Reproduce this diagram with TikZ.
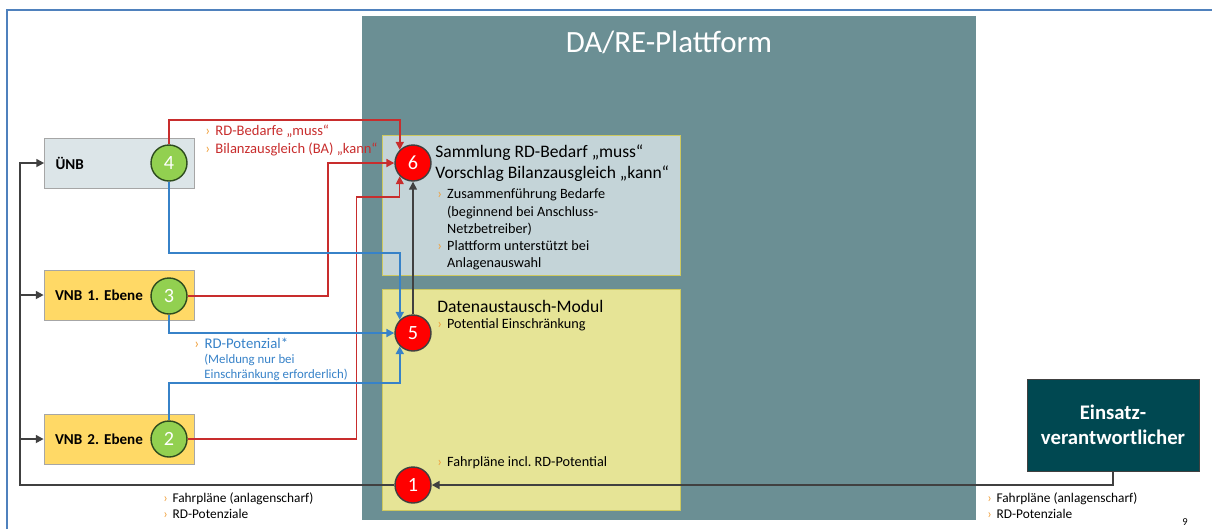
\documentclass[tikz,border=0pt]{standalone}
\usepackage{fontspec}
\setmainfont{Carlito}
\usetikzlibrary{positioning, arrows.meta}
\definecolor{frameblue}{RGB}{79,129,189}
\definecolor{platgrey}{RGB}{107,143,148}
\definecolor{modblue}{RGB}{196,212,216}
\definecolor{modyellow}{RGB}{230,228,150}
\definecolor{modedge}{RGB}{205,200,95}
\definecolor{actgreen}{RGB}{146,208,80}
\definecolor{greenedge}{RGB}{45,75,30}
\definecolor{vnbfill}{RGB}{255,217,102}
\definecolor{unbfill}{RGB}{220,229,232}
\definecolor{einsfill}{RGB}{0,72,81}
\definecolor{flowred}{RGB}{200,45,45}
\definecolor{flowblue}{RGB}{55,130,200}
\definecolor{flowgrey}{RGB}{64,64,64}
\definecolor{bulorange}{RGB}{240,160,60}
\newcommand{\bul}{{\color{bulorange}›}\hspace{0.35em}}
\newcommand{\bulgap}{\hphantom{›\hspace{0.35em}}}
\frenchspacing

\begin{document}
\begin{tikzpicture}[x=0.02cm, y=-0.02cm,
        actor/.style={draw=gray!70, minimum width=3cm, minimum height=1cm,
            inner xsep=0.22cm, text width=2.56cm, align=left,
            font=\fontsize{8.6}{10}\selectfont\bfseries},
        stepgreen/.style={circle, draw=greenedge, thick, fill=actgreen,
            minimum size=0.72cm, inner sep=0pt, text=white,
            font=\fontsize{11.5}{12}\selectfont},
        stepred/.style={circle, draw=flowgrey, thick, fill=red,
            minimum size=0.72cm, inner sep=0pt, text=white,
            font=\fontsize{11.5}{12}\selectfont},
        heading/.style={anchor=west, align=left, inner sep=0pt,
            font=\fontsize{10}{11.8}\selectfont},
        note/.style={anchor=west, align=left, inner sep=0pt,
            font=\fontsize{8.1}{9.8}\selectfont},
        flow/.style={line width=1.1pt, -{Triangle[length=4.5pt, width=4.5pt]}}
    ]
    \useasboundingbox (0,0) rectangle (1212,529);

    % slide frame
    \draw[frameblue, line width=1.4pt] (7,529) -- (7,10) -- (1212,10);

    % platform with its two modules
    \node[fill=platgrey, minimum width=12.28cm, minimum height=10.08cm,
        inner sep=0pt] (plat) at (669,268) {};
    \node[text=white, font=\fontsize{17.6}{18}\selectfont] (plattitle) at (669,42)
        {DA/RE-Plattform};
    \node[fill=modblue, draw=modedge, minimum width=5.96cm, minimum height=2.8cm,
        inner sep=0pt] (collect) at (531,205) {};
    \node[fill=modyellow, draw=modedge, minimum width=5.96cm, minimum height=4.42cm,
        inner sep=0pt] (exchange) at (531,399.5) {};

    \node[heading] (collecthead) at (435,163)
        {Sammlung RD-Bedarf „muss“\\Vorschlag Bilanzausgleich „kann“};
    \node[note] (collectlist) at (437,229.5)
        {\bul Zusammenführung Bedarfe\\
         \bulgap(beginnend bei Anschluss-\\
         \bulgap Netzbetreiber)\\
         \bul Plattform unterstützt bei\\
         \bulgap Anlagenauswahl};
    \node[heading] (exchangehead) at (437,306) {Datenaustausch-Modul};
    \node[note] (exchangelist) at (437,325) {\bul Potential Einschränkung};
    \node[note] (schedlist) at (437,463) {\bul Fahrpläne incl. RD-Potential};

    % operators on the left
    \node[actor, fill=unbfill] (unb) at (119.5,163) {ÜNB};
    \node[actor, fill=vnbfill] (vnb1) at (119,295) {VNB 1. Ebene};
    \node[actor, fill=vnbfill] (vnb2) at (119,439) {VNB 2. Ebene};
    \node[stepgreen] (n4) at (169,163) {4};
    \node[stepgreen] (n3) at (169,296) {3};
    \node[stepgreen] (n2) at (169,439) {2};

    % steps on the platform
    \node[stepred] (n6) at (413,163) {6};
    \node[stepred] (n5) at (413,333) {5};
    \node[stepred] (n1) at (413,485) {1};

    \node[fill=einsfill, draw=flowgrey, minimum width=3.44cm, minimum height=1.84cm,
        text=white, align=center, font=\fontsize{11.8}{14}\selectfont\bfseries]
        (eins) at (1113,425) {Einsatz-\\verantwortlicher};

    % schedules back to the operators
    \coordinate (bus) at (20,163);
    \draw[flow, flowgrey] (eins.south) |- (n1.east);
    \draw[flow, flowgrey] (n1.west) -| (bus) -- (unb.west);
    \draw[flow, flowgrey] (vnb1.west -| bus) -- (vnb1.west);
    \draw[flow, flowgrey] (vnb2.west -| bus) -- (vnb2.west);
    \draw[flow, flowgrey, line width=0.8pt] (n5.north) -- (n6.south);

    % demands
    \draw[flow, flowred] (n4.north) -- ++(0,-24) -| (n6.135);
    \draw[flow, flowred] (n3.east) -- ++(140,0) |- (n6.west);
    \draw[flow, flowred, line width=0.6pt] (n2.east) -- ++(169,0)
        |- (n6.225 |- 0,197) -- (n6.225);

    % potentials
    \draw[flow, flowblue] (n4.south) -- ++(0,71) -| (n5.135);
    \draw[flow, flowblue] (n3.south) |- (n5.west);
    \draw[flow, flowblue] (n2.north) -- ++(0,-37) -| (n5.225);

    % labels
    \node[note, text=flowred, font=\fontsize{8.3}{10}\selectfont] (demandlbl) at (205,140.5)
        {\bul RD-Bedarfe „muss“\\\bul Bilanzausgleich (BA) „kann“};
    \node[note, text=flowblue, font=\fontsize{8.4}{9}\selectfont] (potlbl) at (194,343)
        {\bul RD-Potenzial*};
    \node[note, text=flowblue, font=\fontsize{7.3}{8.6}\selectfont] (potnote) at (204,367.5)
        {(Meldung nur bei\\Einschränkung erforderlich)};
    \node[note, font=\fontsize{7.6}{9}\selectfont] (schedleft) at (163,505.5)
        {\bul Fahrpläne (anlagenscharf)\\\bul RD-Potenziale};
    \node[note, font=\fontsize{7.6}{9}\selectfont] (schedright) at (987,505.5)
        {\bul Fahrpläne (anlagenscharf)\\\bul RD-Potenziale};
    \node[font=\fontsize{6}{7}\selectfont] (pagenum) at (1185,522) {9};
\end{tikzpicture}
\end{document}
